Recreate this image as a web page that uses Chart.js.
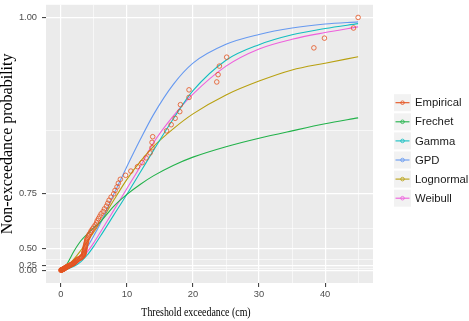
<!DOCTYPE html>
<html>
<head>
<meta charset="utf-8">
<script src="https://cdn.jsdelivr.net/npm/chart.js@4.4.1/dist/chart.umd.min.js"></script>
<style>
  html, body { margin: 0; padding: 0; background: #fff; }
</style>
</head>
<body>
<canvas id="myChart" width="469" height="321"></canvas>
<script>
// fitted curves at these thresholds (cm)
const fitX = [0, 0.5, 1, 2, 3, 4, 5, 6, 8, 10, 12, 14, 17, 20, 25, 30, 35, 40, 45];
const frechetP = [0, 0.15, 0.30, 0.475, 0.556, 0.598, 0.631, 0.657, 0.7135, 0.7486, 0.774, 0.7937, 0.8155, 0.8314, 0.8498, 0.8636, 0.875, 0.8853, 0.8936];
const gammaP = [0, 0.03, 0.09, 0.212, 0.326, 0.432, 0.519, 0.587, 0.683, 0.749, 0.801, 0.843, 0.892, 0.928, 0.961, 0.976, 0.985, 0.9906, 0.9948];
const gpdP = [0, 0.08, 0.15, 0.30, 0.42, 0.511, 0.59, 0.651, 0.7486, 0.8133, 0.861, 0.8977, 0.935, 0.958, 0.9763, 0.9853, 0.991, 0.9944, 0.9963];
const lognormalP = [0, 0.10, 0.22, 0.378, 0.480, 0.552, 0.609, 0.655, 0.732, 0.786, 0.823, 0.850, 0.878, 0.899, 0.923, 0.939, 0.951, 0.958, 0.9644];
const weibullP = [0, 0.05, 0.12, 0.243, 0.362, 0.466, 0.545, 0.609, 0.700, 0.764, 0.813, 0.856, 0.896, 0.924, 0.955, 0.972, 0.981, 0.987, 0.992];

// empirical points
const empX = [
  0.0, 0.05, 0.1, 0.1, 0.15, 0.2, 0.2, 0.25, 0.3, 0.35,
  0.4, 0.45, 0.5, 0.5, 0.55, 0.6, 0.65, 0.7, 0.75, 0.8,
  0.85, 0.9, 1.0, 1.05, 1.1, 1.2, 1.3, 1.4, 1.5, 1.6,
  1.7, 1.8, 1.9, 2.0, 2.05, 2.1, 2.2, 2.25, 2.35, 2.4,
  2.5, 2.6, 2.8, 3.0, 3.1, 3.2, 3.3, 3.4, 3.45, 3.5,
  3.5, 3.5, 3.55, 3.6, 3.6, 3.65, 3.7, 3.7, 3.75, 3.8,
  3.85, 3.9, 3.9, 4.0, 4.1, 4.2, 4.3, 4.5, 4.6, 4.8,
  5.0, 5.2, 5.4, 5.5, 5.7, 5.9, 6.1, 6.4, 6.6, 6.9,
  7.1, 7.3, 7.6, 8.0, 8.2, 8.5, 8.7, 9.0, 9.8, 10.6,
  11.6, 12.3, 12.9, 13.5, 13.8, 13.8, 13.9, 16.0, 16.7, 17.3,
  18.0, 18.1, 19.4, 19.4, 23.6, 23.8, 24.0, 25.1, 38.3, 39.9,
  44.3, 45.0
];
const empP = [
  0.009, 0.018, 0.027, 0.036, 0.045, 0.054, 0.063, 0.071, 0.080, 0.089,
  0.098, 0.107, 0.116, 0.125, 0.134, 0.143, 0.152, 0.161, 0.170, 0.179,
  0.188, 0.196, 0.205, 0.214, 0.223, 0.232, 0.241, 0.250, 0.259, 0.268,
  0.277, 0.286, 0.295, 0.304, 0.313, 0.321, 0.330, 0.339, 0.348, 0.357,
  0.366, 0.375, 0.384, 0.393, 0.402, 0.411, 0.420, 0.429, 0.438, 0.446,
  0.455, 0.464, 0.473, 0.482, 0.491, 0.500, 0.509, 0.518, 0.527, 0.536,
  0.545, 0.554, 0.563, 0.571, 0.580, 0.589, 0.598, 0.607, 0.616, 0.625,
  0.634, 0.643, 0.652, 0.661, 0.670, 0.679, 0.688, 0.696, 0.705, 0.714,
  0.723, 0.732, 0.741, 0.750, 0.759, 0.768, 0.777, 0.786, 0.795, 0.804,
  0.813, 0.821, 0.830, 0.839, 0.848, 0.857, 0.866, 0.875, 0.884, 0.893,
  0.902, 0.911, 0.920, 0.929, 0.938, 0.946, 0.955, 0.964, 0.973, 0.982,
  0.991, 1.000
];

const seriesNames = ["Empirical", "Frechet", "Gamma", "GPD", "Lognormal", "Weibull"];
const seriesColors = ["#E5531F", "#22B24A", "#13BEC1", "#6699F0", "#B8A010", "#EE60DC"];

const xTicks = [0, 10, 20, 30, 40];
const xMinor = [5, 15, 25, 35, 45];
const yTicks = [0, 0.25, 0.5, 0.75, 1];
const yMinor = [0.125, 0.375, 0.625, 0.875];

// the probability axis is stretched towards 1
const STRETCH = 4.7;
class ProbScale extends Chart.LinearScale {
  _t(v) {
    return Math.exp(STRETCH * v);
  }
  _span() {
    const lo = this._t(this.min);
    const hi = this._t(this.max);
    const pad = (hi - lo) * 0.05;
    return [lo - pad, hi + pad];
  }
  getPixelForValue(value) {
    if (value === null || value === undefined) return NaN;
    const [a, b] = this._span();
    return this.getPixelForDecimal((this._t(value) - a) / (b - a));
  }
  getValueForPixel(pixel) {
    const [a, b] = this._span();
    const t = a + this.getDecimalForPixel(pixel) * (b - a);
    return t > 0 ? Math.log(t) / STRETCH : this.min;
  }
}
ProbScale.id = "prob";
ProbScale.defaults = Chart.LinearScale.defaults;
Chart.register(ProbScale);

const toPoints = (xs, ys) => xs.map((x, i) => ({ x: x, y: ys[i] }));
const fitted = [frechetP, gammaP, gpdP, lognormalP, weibullP];

const datasets = [
  {
    label: seriesNames[0],
    data: toPoints(empX, empP),
    showLine: false,
    borderColor: seriesColors[0],
    backgroundColor: "rgba(0,0,0,0)",
    pointRadius: 2.3,
    pointBorderWidth: 0.8,
    pointBorderColor: seriesColors[0],
    pointBackgroundColor: "rgba(0,0,0,0)",
  },
];
fitted.forEach((ys, k) => {
  datasets.push({
    label: seriesNames[k + 1],
    data: toPoints(fitX, ys),
    borderColor: seriesColors[k + 1],
    borderWidth: 1.1,
    pointRadius: 0,
    fill: false,
    cubicInterpolationMode: "monotone",
  });
});

const panelAndLegend = {
  id: "panelAndLegend",
  beforeDraw(chart) {
    const { ctx, chartArea: a } = chart;
    ctx.save();
    ctx.fillStyle = "#ffffff";
    ctx.fillRect(0, 0, chart.width, chart.height);
    ctx.fillStyle = "#EBEBEB";
    ctx.fillRect(a.left, a.top, a.right - a.left, a.bottom - a.top);
    ctx.restore();
  },
  afterDraw(chart) {
    const { ctx } = chart;
    ctx.save();
    // x axis title, a little narrow like the picture
    ctx.translate(196, 312.5);
    ctx.scale(0.86, 1);
    ctx.fillStyle = "#000";
    ctx.font = "11.5px 'Liberation Serif', 'Times New Roman', serif";
    ctx.textAlign = "center";
    ctx.textBaseline = "middle";
    ctx.fillText("Threshold exceedance (cm)", 0, 0);
    ctx.restore();

    // legend
    ctx.save();
    const keyX = 394, keySize = 17, rowTop = 102.7, rowStep = 19.1;
    seriesNames.forEach((name, i) => {
      const cy = rowTop + i * rowStep;
      ctx.fillStyle = "#F2F2F2";
      ctx.fillRect(keyX, cy - keySize / 2, keySize, keySize);
      ctx.strokeStyle = seriesColors[i];
      ctx.lineWidth = 1.1;
      ctx.beginPath();
      ctx.moveTo(keyX + 1.5, cy);
      ctx.lineTo(keyX + keySize - 1.5, cy);
      ctx.stroke();
      ctx.lineWidth = 0.8;
      ctx.beginPath();
      ctx.arc(keyX + keySize / 2, cy, 1.8, 0, Math.PI * 2);
      ctx.stroke();
      ctx.fillStyle = "#1A1A1A";
      ctx.font = "11.3px 'Liberation Sans', Arial, sans-serif";
      ctx.textAlign = "left";
      ctx.textBaseline = "middle";
      ctx.fillText(name, keyX + keySize + 4, cy + 0.5);
    });
    ctx.restore();
  },
};

const tickFont = { family: "'Liberation Sans', Arial, sans-serif", size: 9.3 };

new Chart(document.getElementById("myChart"), {
  type: "line",
  data: { datasets: datasets },
  options: {
    responsive: false,
    animation: false,
    layout: { padding: { top: 2, right: 96, left: 0, bottom: 0 } },
    plugins: {
      legend: { display: false },
      tooltip: { enabled: false },
    },
    scales: {
      x: {
        type: "linear",
        min: -2.25,
        max: 47.25,
        afterFit: (scale) => {
          scale.height = 38;
          scale.paddingLeft = 0;
          scale.paddingRight = 0;
        },
        afterBuildTicks: (scale) => {
          scale.ticks = xTicks.concat(xMinor).sort((p, q) => p - q).map((v) => ({ value: v }));
        },
        ticks: {
          autoSkip: false,
          maxRotation: 0,
          padding: 2,
          color: "#4D4D4D",
          font: tickFont,
          callback: (v) => (xTicks.includes(v) ? String(v) : ""),
        },
        grid: {
          color: "#ffffff",
          lineWidth: (c) => (c.tick && xTicks.includes(c.tick.value) ? 1.2 : 0.6),
          tickColor: (c) => (c.tick && xTicks.includes(c.tick.value) ? "#333333" : "rgba(0,0,0,0)"),
          tickWidth: 1,
          tickLength: 4,
        },
        border: { display: false },
      },
      y: {
        type: "prob",
        min: 0,
        max: 1,
        afterFit: (scale) => {
          scale.width = 46;
          scale.paddingTop = 0;
          scale.paddingBottom = 0;
        },
        afterBuildTicks: (scale) => {
          scale.ticks = yTicks.concat(yMinor).sort((p, q) => p - q).map((v) => ({ value: v }));
        },
        ticks: {
          autoSkip: false,
          padding: 5,
          color: "#4D4D4D",
          font: tickFont,
          callback: (v) => (yTicks.includes(v) ? v.toFixed(2) : ""),
        },
        grid: {
          color: "#ffffff",
          lineWidth: (c) => (c.tick && yTicks.includes(c.tick.value) ? 1.2 : 0.6),
          tickColor: (c) => (c.tick && yTicks.includes(c.tick.value) ? "#333333" : "rgba(0,0,0,0)"),
          tickWidth: 1,
          tickLength: 4,
        },
        border: { display: false },
        title: {
          display: true,
          text: "Non-exceedance probability",
          color: "#000",
          font: { family: "'Liberation Serif', 'Times New Roman', serif", size: 16, lineHeight: 1.0 },
          padding: { top: 0, bottom: 0 },
        },
      },
    },
  },
  plugins: [panelAndLegend],
});
</script>
</body>
</html>
